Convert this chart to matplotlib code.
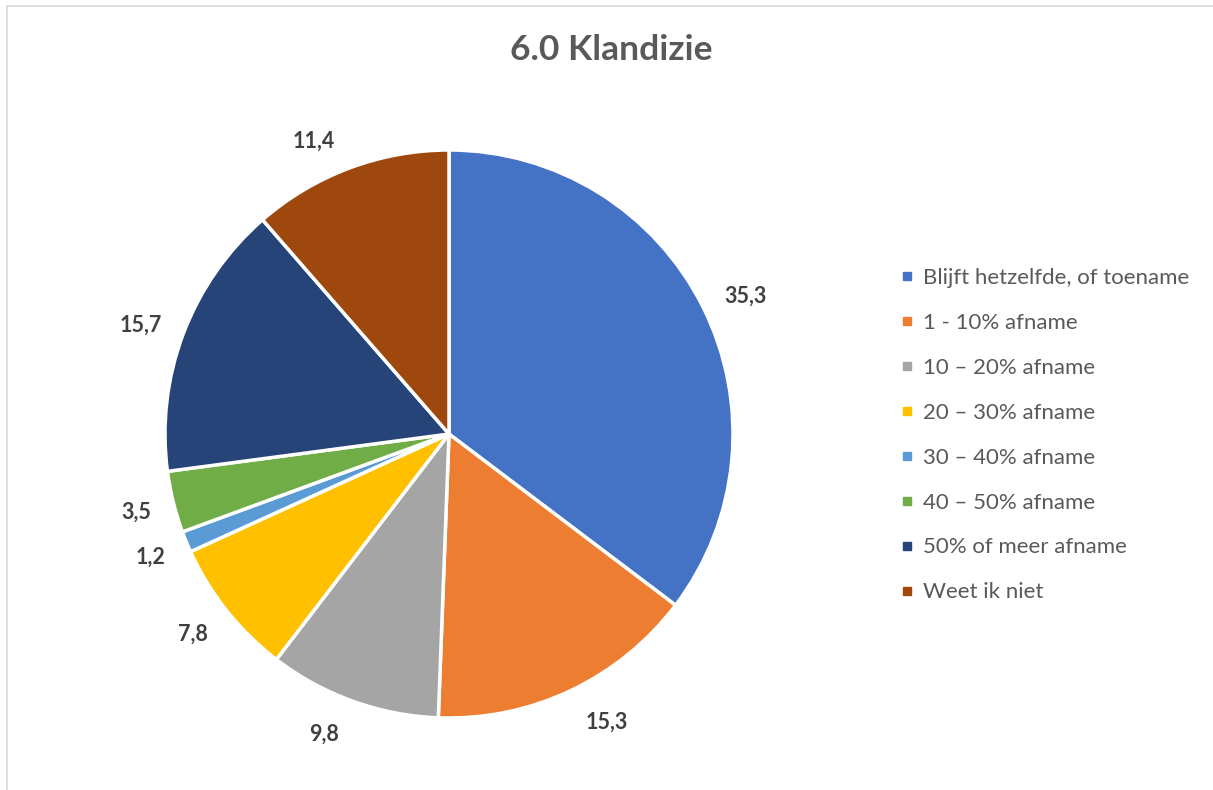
import matplotlib
matplotlib.use("Agg")
import matplotlib.pyplot as plt
from matplotlib.lines import Line2D
import numpy as np

categories = ["Blijft hetzelfde, of toename", "1 - 10% afname", "10 – 20% afname",
              "20 – 30% afname", "30 – 40% afname", "40 – 50% afname",
              "50% of meer afname", "Weet ik niet"]
values = [35.3, 15.3, 9.8, 7.8, 1.2, 3.5, 15.7, 11.4]
colors = ["#4472C4", "#ED7D31", "#A5A5A5", "#FFC000", "#5B9BD5", "#70AD47", "#264478", "#9E480E"]
title = "6.0 Klandizie"

plt.rcParams['font.family'] = ['Lato', 'DejaVu Sans']

W, H = 1213, 790
fig = plt.figure(figsize=(W / 100, H / 100), dpi=100)
fig.patch.set_facecolor("white")

# frame lines
fig.add_artist(Line2D([7 / W, 1], [1 - 6 / H, 1 - 6 / H], color="#D9D9D9", lw=1.2))
fig.add_artist(Line2D([7 / W, 7 / W], [0, 1 - 6 / H], color="#D9D9D9", lw=1.2))

cx, cy, r = 449, 434, 284
ax = fig.add_axes([(cx - r) / W, (H - cy - r) / H, 2 * r / W, 2 * r / H])

labels_fmt = [f"{v:.1f}".replace(".", ",") for v in values]
wedges, texts = ax.pie(values, colors=colors, startangle=90, counterclock=False,
                       labels=labels_fmt, labeldistance=1.16,
                       wedgeprops=dict(edgecolor="white", linewidth=2.5),
                       textprops=dict(fontsize=15.5, fontweight="bold", color="#404040",
                                      ha="center", va="center"))
ax.set_xlim(-1, 1)
ax.set_ylim(-1, 1)
ax.set_aspect("auto")
ax.axis("off")

fig.text(611 / W, 1 - 50 / H, title, ha="center", va="center", fontsize=25.5,
         fontweight="bold", color="#595959")

handles = [Line2D([], [], marker="s", linestyle="none", markersize=6,
                  markerfacecolor=c, markeredgecolor=c) for c in colors]
leg = fig.legend(handles, categories, loc="upper left",
                 bbox_to_anchor=(890 / W, 1 - 257 / H), frameon=False,
                 fontsize=16, labelcolor="#595959", handlelength=0.5,
                 handletextpad=0.5, labelspacing=1.12, borderpad=0)

# place labels outside the slice ends (Excel "outside end" style)
fig.canvas.draw()
renderer = fig.canvas.get_renderer()
for w, t in zip(wedges, texts):
    ang = np.deg2rad((w.theta1 + w.theta2) / 2)
    bw = t.get_window_extent(renderer).width
    c, s = np.cos(ang), np.sin(ang)
    x = (r + 12) * c + np.sign(c) * (bw / 2 + 10)
    y = (r + 32) * s - 3
    t.set_position((x / r, y / r))

fig.savefig("out.png", dpi=100)
